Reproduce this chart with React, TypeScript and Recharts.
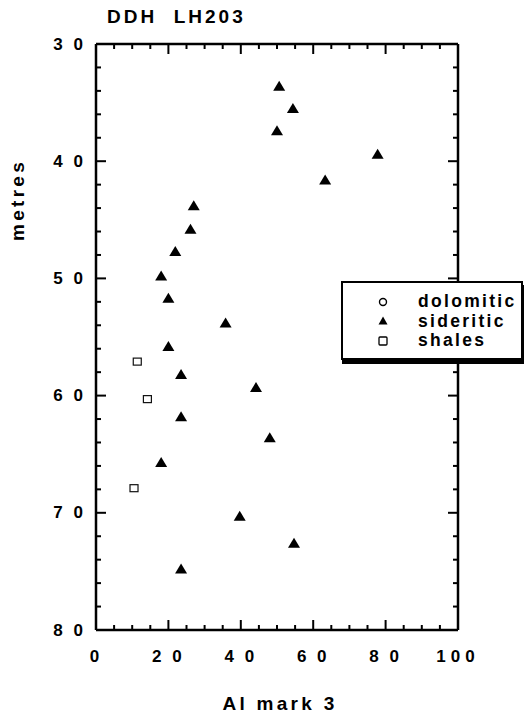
import * as React from "react";
import { Legend, Scatter, ScatterChart, XAxis, YAxis } from "recharts";

// Al mark 3 (x) against depth in metres (y)
const sideriticAl = [50.6, 54.4, 50, 77.8, 63.3, 27, 26.1, 21.9, 18, 20, 35.8, 20, 23.5, 44.2, 23.5, 48, 18, 39.7, 54.7, 23.5];
const sideriticDepth = [33.6, 35.5, 37.4, 39.4, 41.6, 43.8, 45.8, 47.7, 49.8, 51.7, 53.8, 55.8, 58.2, 59.3, 61.8, 63.6, 65.7, 70.3, 72.6, 74.8];
const shalesAl = [11.4, 14.2, 10.5];
const shalesDepth = [57.1, 60.3, 67.9];
const dolomiticAl: number[] = [];
const dolomiticDepth: number[] = [];
const legendOrder = ["dolomitic", "sideritic", "shales"];

const xTicks = [0, 5, 10, 15, 20, 25, 30, 35, 40, 45, 50, 55, 60, 65, 70, 75, 80, 85, 90, 95, 100];
const yTicks = [30, 32, 34, 36, 38, 40, 42, 44, 46, 48, 50, 52, 54, 56, 58, 60, 62, 64, 66, 68, 70, 72, 74, 76, 78, 80];

const toPoints = (al: number[], depth: number[]) => al.map((v, i) => ({ al: v, depth: depth[i] }));
const siderites = toPoints(sideriticAl, sideriticDepth);
const shales = toPoints(shalesAl, shalesDepth);
const dolomites = toPoints(dolomiticAl, dolomiticDepth);
const frame = [...siderites, ...shales];

const FONT = '"Liberation Sans", Arial, Helvetica, sans-serif';
const fmt = (v: number) => (v === 100 ? "100" : String(v).split("").join(" "));

const textStyle = { fontFamily: FONT, fontWeight: 700, fill: "#000" };

// ticks point into the plot on all four sides; majors are longer
function BottomTick(props: any) {
  const x = Number(props.x);
  const y = Number(props.y);
  const v = props.payload.value;
  const major = v % 20 === 0;
  return (
    <g>
      <line x1={x} y1={y} x2={x} y2={y - (major ? 10 : 5)} stroke="#000" strokeWidth={2} />
      {major && (
        <text x={x} y={y + 26} textAnchor="middle" dominantBaseline="central" fontSize={17}
          style={{ ...textStyle, letterSpacing: v === 100 ? 5 : 3 }}>
          {fmt(v)}
        </text>
      )}
    </g>
  );
}

function TopTick(props: any) {
  const x = Number(props.x);
  const y = Number(props.y);
  const major = props.payload.value % 20 === 0;
  return (
    <g>
      <line x1={x} y1={y} x2={x} y2={y + (major ? 10 : 5)} stroke="#000" strokeWidth={2} />
    </g>
  );
}

function LeftTick(props: any) {
  const x = Number(props.x);
  const y = Number(props.y);
  const v = props.payload.value;
  const major = v % 10 === 0;
  return (
    <g>
      <line x1={x} y1={y} x2={x + (major ? 10 : 5)} y2={y} stroke="#000" strokeWidth={2} />
      {major && (
        <text x={x - 10} y={y} textAnchor="end" dominantBaseline="central" fontSize={17}
          style={{ ...textStyle, letterSpacing: 3 }}>
          {fmt(v)}
        </text>
      )}
    </g>
  );
}

function RightTick(props: any) {
  const x = Number(props.x);
  const y = Number(props.y);
  const major = props.payload.value % 10 === 0;
  return (
    <g>
      <line x1={x} y1={y} x2={x - (major ? 10 : 5)} y2={y} stroke="#000" strokeWidth={2} />
    </g>
  );
}

const Triangle = ({ cx, cy }: any) => (
  <path d={`M${cx},${cy - 5.5} L${cx + 6},${cy + 4.5} L${cx - 6},${cy + 4.5} Z`} fill="#000" />
);
const OpenSquare = ({ cx, cy }: any) => (
  <rect x={cx - 4} y={cy - 3.5} width={8} height={7} fill="none" stroke="#111" strokeWidth={1.2} />
);
const OpenCircle = ({ cx, cy }: any) => <circle cx={cx} cy={cy} r={3.5} fill="none" stroke="#000" strokeWidth={1.3} />;
const Nothing = () => <g />;

const legendIcon = (name: string) => {
  if (name === "dolomitic") return <circle cx={6} cy={6} r={3.5} fill="none" stroke="#000" strokeWidth={1.4} />;
  if (name === "sideritic") return <path d="M6,1.5 L10.5,9.5 L1.5,9.5 Z" fill="#000" />;
  return <rect x={2} y={2} width={8} height={8} rx={1} fill="none" stroke="#000" strokeWidth={1.3} />;
};

function LegendBox({ payload }: any) {
  const names = (payload || []).map((p: any) => p.value);
  const rows = legendOrder.filter((n) => names.includes(n));
  return (
    <div
      style={{
        width: 178,
        height: 66,
        border: "2px solid #000",
        background: "#fff",
        boxShadow: "1px 4px 0 #000",
        paddingTop: 9,
        boxSizing: "content-box",
      }}
    >
      {rows.map((name) => (
        <div key={name} style={{ display: "flex", alignItems: "center", height: 19.5 }}>
          <svg width={12} height={12} style={{ marginLeft: 34, marginRight: 29 }}>
            {legendIcon(name)}
          </svg>
          <span style={{ fontFamily: FONT, fontWeight: 700, fontSize: 17.5, letterSpacing: 2.3, lineHeight: "19px" }}>
            {name}
          </span>
        </div>
      ))}
    </div>
  );
}

export default function App() {
  return (
    <div style={{ position: "absolute", left: 0, top: 0, width: 526, height: 722 }}>
      <div
        style={{
          position: "absolute",
          left: 107,
          top: 6,
          fontFamily: FONT,
          fontWeight: 700,
          fontSize: 19,
          letterSpacing: 3,
          whiteSpace: "pre",
          zIndex: 2,
        }}
      >
        DDH  LH203
      </div>
      <ScatterChart width={526} height={722} margin={{ top: 34, right: 58, bottom: 52, left: 36 }}>
        <XAxis
          xAxisId="b"
          type="number"
          dataKey="al"
          domain={[0, 100]}
          ticks={xTicks}
          interval={0}
          orientation="bottom"
          height={40}
          tickSize={0}
          tickMargin={0}
          tickLine={false}
          axisLine={{ stroke: "#000", strokeWidth: 2.5 }}
          tick={(p: any) => <BottomTick {...p} />}
          label={{
            content: ({ viewBox }: any) => (
              <text x={viewBox.x + viewBox.width / 2 + 3} y={viewBox.y + 80} textAnchor="middle" fontSize={19}
                style={{ ...textStyle, letterSpacing: 3.3 }}>
                Al mark 3
              </text>
            ),
          }}
        />
        <XAxis
          xAxisId="t"
          type="number"
          dataKey="al"
          domain={[0, 100]}
          ticks={xTicks}
          interval={0}
          orientation="top"
          height={10}
          tickSize={0}
          tickMargin={0}
          tickLine={false}
          axisLine={{ stroke: "#000", strokeWidth: 2.5 }}
          tick={(p: any) => <TopTick {...p} />}
        />
        <YAxis
          yAxisId="l"
          type="number"
          dataKey="depth"
          domain={[30, 80]}
          reversed
          ticks={yTicks}
          interval={0}
          orientation="left"
          width={60}
          tickSize={0}
          tickMargin={0}
          tickLine={false}
          axisLine={{ stroke: "#000", strokeWidth: 2.5 }}
          tick={(p: any) => <LeftTick {...p} />}
          label={{
            content: () => (
              <text x={17} y={200} transform="rotate(-90 17 200)" textAnchor="middle" dominantBaseline="central"
                fontSize={19} style={{ ...textStyle, letterSpacing: 3.3 }}>
                metres
              </text>
            ),
          }}
        />
        <YAxis
          yAxisId="r"
          type="number"
          dataKey="depth"
          domain={[30, 80]}
          reversed
          ticks={yTicks}
          interval={0}
          orientation="right"
          width={10}
          tickSize={0}
          tickMargin={0}
          tickLine={false}
          axisLine={{ stroke: "#000", strokeWidth: 2.5 }}
          tick={(p: any) => <RightTick {...p} />}
        />
        <Legend
          verticalAlign="middle"
          align="center"
          layout="horizontal"
          content={<LegendBox />}
          wrapperStyle={{ position: "absolute", left: 341, top: 281, width: 182, height: 84 }}
        />
        <Scatter name="dolomitic" data={dolomites} xAxisId="b" yAxisId="l" shape={<OpenCircle />} isAnimationActive={false} />
        <Scatter name="sideritic" data={siderites} xAxisId="b" yAxisId="l" shape={<Triangle />} isAnimationActive={false} />
        <Scatter name="shales" data={shales} xAxisId="b" yAxisId="l" shape={<OpenSquare />} isAnimationActive={false} />
        <Scatter data={frame} xAxisId="t" yAxisId="r" shape={<Nothing />} legendType="none" isAnimationActive={false} />
      </ScatterChart>
    </div>
  );
}
